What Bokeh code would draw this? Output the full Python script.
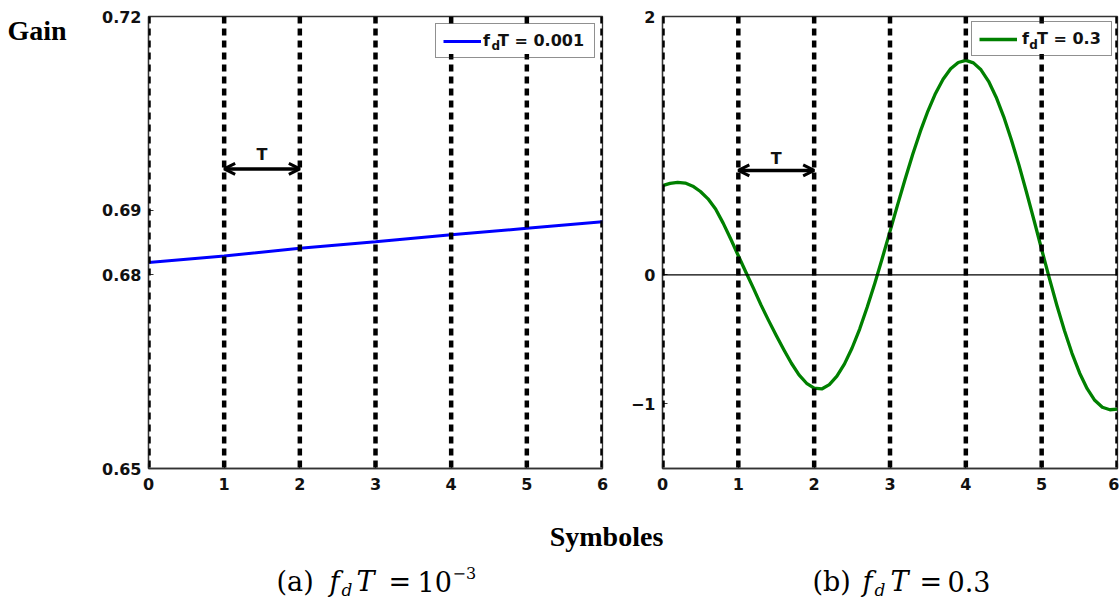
from bokeh.plotting import figure
from bokeh.models import (Range1d, FixedTicker, PrintfTickFormatter, CustomJSTickFormatter,
                          Span, Arrow, OpenHead, Label, Legend, LegendItem)
from bokeh.layouts import row, column
from bokeh.embed import file_html
from bokeh.resources import INLINE

# ---------------- data ----------------
symbol_instants = [0, 1, 2, 3, 4, 5, 6]
x_ticks = [0, 1, 2, 3, 4, 5, 6]

# panel (a): fdT = 0.001
gain_a_time = [0, 1, 2, 3, 4, 5, 6]
gain_a = [0.6819, 0.6829, 0.6841, 0.6851, 0.6862, 0.6872, 0.6882]
y_ticks_a = [0.65, 0.68, 0.69, 0.72]
legend_a = "f\u2002T = 0.001"
arrow_y_a = 0.6964
arrow_label_y_a = 0.6986
legend_sub_a = (4.533, 0.7155)      # position of the subscript "d" in the legend
legend_card_a = (4.85, 0.7165, 7)   # centre and width (em) of the legend's white card

# panel (b): fdT = 0.3
gain_b_time = [0.0, 0.1, 0.2, 0.3, 0.4, 0.5, 0.6, 0.7, 0.8, 0.9,
               1.0, 1.1, 1.2, 1.3, 1.4, 1.5, 1.6, 1.7, 1.8, 1.9,
               2.0, 2.1, 2.2, 2.3, 2.4, 2.5, 2.6, 2.7, 2.8, 2.9,
               3.0, 3.1, 3.2, 3.3, 3.4, 3.5, 3.6, 3.7, 3.8, 3.9,
               4.0, 4.1, 4.2, 4.3, 4.4, 4.5, 4.6, 4.7, 4.8, 4.9,
               5.0, 5.1, 5.2, 5.3, 5.4, 5.5, 5.6, 5.7, 5.8, 5.9, 6.0]
gain_b = [0.690, 0.708, 0.716, 0.710, 0.686, 0.645, 0.588, 0.510, 0.400, 0.277,
          0.147, 0.020, -0.105, -0.235, -0.355, -0.470, -0.580, -0.685, -0.775, -0.840,
          -0.878, -0.884, -0.850, -0.785, -0.690, -0.567, -0.420, -0.250, -0.066, 0.132,
          0.336, 0.541, 0.742, 0.934, 1.110, 1.268, 1.404, 1.514, 1.595, 1.644,
          1.660, 1.641, 1.587, 1.498, 1.375, 1.223, 1.046, 0.851, 0.639, 0.420,
          0.196, -0.024, -0.236, -0.432, -0.608, -0.760, -0.882, -0.972, -1.026, -1.045, -1.040]
y_ticks_b = [-1, 0, 2]
legend_b = "f\u2002T = 0.3"
arrow_y_b = 0.808
arrow_label_y_b = 0.897
legend_sub_b = (4.835, 1.778)
legend_card_b = (5.02, 1.8265, 6)

period_label = "T"
y_title = "Gain"
x_title = "Symboles"

TICK_FONT = "DejaVu Sans"
INK = "#111111"
FRAME = "#333333"


def blank_figure(width, height, y_top=0, y_bottom=None):
    if y_bottom is None:
        y_bottom = height
    p = figure(width=width, height=height, x_range=Range1d(0, width), y_range=Range1d(y_bottom, y_top),
               min_border=0, x_axis_type=None, y_axis_type=None, outline_line_color=None,
               toolbar_location=None, output_backend="svg",
               background_fill_color="white", border_fill_color="white")
    p.xgrid.visible = False
    p.ygrid.visible = False
    return p


def base_figure(width, xr, yr, left, right, ticks_y, fmt):
    p = figure(width=width, height=500, x_range=xr, y_range=yr,
               min_border_left=left, min_border_right=right,
               min_border_top=16, min_border_bottom=32,
               toolbar_location=None, output_backend="svg",
               background_fill_color="white", border_fill_color="white")
    p.xaxis.ticker = FixedTicker(ticks=x_ticks, minor_ticks=[])
    p.yaxis.ticker = FixedTicker(ticks=ticks_y, minor_ticks=[])
    p.yaxis.formatter = fmt
    for ax in (p.xaxis[0], p.yaxis[0]):
        ax.axis_line_color = FRAME
        ax.axis_line_width = 1.3
        ax.major_tick_line_color = FRAME
        ax.major_tick_line_width = 1.2
        ax.major_tick_in = 5
        ax.major_tick_out = 0
        ax.minor_tick_line_color = None
        ax.major_label_text_font = TICK_FONT
        ax.major_label_text_font_style = "bold"
        ax.major_label_text_font_size = "16px"
        ax.major_label_text_color = INK
    p.xaxis.major_label_standoff = 9
    p.yaxis.major_label_standoff = 7
    p.xgrid.visible = False
    p.ygrid.visible = False
    p.outline_line_color = FRAME
    p.outline_line_width = 1.3
    return p


def add_symbol_lines(p):
    for t in symbol_instants:
        p.add_layout(Span(location=t, dimension="height", line_color="black",
                          line_width=4.5, line_dash="7 5", level="annotation"))


def add_period_arrow(p, y, ly):
    p.add_layout(Arrow(start=OpenHead(size=11, line_width=3, line_color="black"),
                       end=OpenHead(size=11, line_width=3, line_color="black"),
                       x_start=symbol_instants[1], x_end=symbol_instants[2],
                       y_start=y, y_end=y, line_width=3.5, line_color="black"))
    p.add_layout(Label(x=(symbol_instants[1] + symbol_instants[2]) / 2, y=ly,
                       text=period_label, text_align="center", text_baseline="middle",
                       text_font=TICK_FONT, text_font_style="bold",
                       text_font_size="16px", text_color=INK, level="overlay"))


def add_legend(p, r, label, margin, standoff, label_w, sub_xy, card):
    # white card under the (transparent) legend so the dotted lines are hidden behind it
    cx, cy, n_em = card
    p.add_layout(Label(x=cx, y=cy, text="\u2003" * n_em, text_align="center",
                       text_baseline="middle", text_font=TICK_FONT, text_font_size="21px",
                       background_fill_color="white", background_fill_alpha=1.0,
                       border_line_color=None, padding=3, level="annotation"))
    # subscript "d" of f_d
    p.add_layout(Label(x=sub_xy[0], y=sub_xy[1], text="d",
                       text_baseline="middle", text_font=TICK_FONT, text_font_style="bold",
                       text_font_size="12px", text_color=INK, level="annotation"))
    leg = Legend(items=[LegendItem(label=label, renderers=[r])], location="top_right",
                 margin=margin, padding=7, spacing=0,
                 glyph_width=38, glyph_height=18, label_standoff=standoff,
                 label_width=label_w, label_height=18,
                 label_text_font=TICK_FONT, label_text_font_style="bold",
                 label_text_font_size="16px", label_text_color=INK,
                 label_text_baseline="middle",
                 border_line_color="#222222", border_line_width=1.3,
                 background_fill_color="white", background_fill_alpha=0.0)
    p.add_layout(leg)


# ---------------- "Gain" column (frame aligned with the panels: page y 16..468) ----------------
p0 = blank_figure(75, 500, y_top=16, y_bottom=468)
p0.add_layout(Label(x=7, y=29.5, text=y_title, text_align="left", text_baseline="middle",
                    text_font="Liberation Serif", text_font_style="bold",
                    text_font_size="28px", text_color="black"))

# ---------------- panel (a) ----------------
p1 = base_figure(545, Range1d(0, 6), Range1d(0.65, 0.72), 73, 18, y_ticks_a,
                 PrintfTickFormatter(format="%.2f"))
add_symbol_lines(p1)
r1 = p1.line(gain_a_time, gain_a, line_color="#0000ff", line_width=3)
add_period_arrow(p1, arrow_y_a, arrow_label_y_a)
add_legend(p1, r1, legend_a, 7, 2, 104, legend_sub_a, legend_card_a)

# ---------------- panel (b) ----------------
p2 = base_figure(499, Range1d(0, 6), Range1d(-1.5, 2), 42, 2, y_ticks_b,
                 CustomJSTickFormatter(code="return tick < 0 ? '\\u2212' + Math.abs(tick) : String(tick);"))
p2.add_layout(Span(location=0, dimension="width", line_color="black", line_width=1.2))
add_symbol_lines(p2)
r2 = p2.line(gain_b_time, gain_b, line_color="#008000", line_width=3.3, line_join="round")
add_period_arrow(p2, arrow_y_b, arrow_label_y_b)
add_legend(p2, r2, legend_b, 5, 5, 82, legend_sub_b, legend_card_b)

# ---------------- captions ----------------
p3 = blank_figure(1119, 99)
p3.add_layout(Label(x=606, y=35.5, text=x_title, text_align="center", text_baseline="middle",
                    text_font="Liberation Serif", text_font_style="bold",
                    text_font_size="28px", text_color="black"))

CAP_FONT = "DejaVu Serif"
caption_parts = [
    # (text, x, middle-y, size, style)
    ("(a)", 276, 80.7, 27, "normal"),
    ("f", 329, 80.7, 27, "italic"),
    ("d", 341, 89, 17, "italic"),
    ("T", 356, 80.7, 27, "italic"),
    ("=", 388, 80.7, 27, "normal"),
    ("10", 417, 80.7, 27, "normal"),
    ("\u22123", 452, 72.5, 16, "normal"),
    ("(b)", 812, 80.7, 27, "normal"),
    ("f", 862, 80.7, 27, "italic"),
    ("d", 874, 89, 17, "italic"),
    ("T", 890, 80.7, 27, "italic"),
    ("=", 919, 80.7, 27, "normal"),
    ("0.3", 947, 80.7, 27, "normal"),
]
for txt, cx, cy, size, style in caption_parts:
    p3.add_layout(Label(x=cx, y=cy, text=txt, text_align="left", text_baseline="middle",
                        text_font=CAP_FONT, text_font_style=style,
                        text_font_size=f"{size}px", text_color="black"))

layout = column(row(p0, p1, p2), p3)
open("out.html", "w").write(file_html(layout, INLINE))
